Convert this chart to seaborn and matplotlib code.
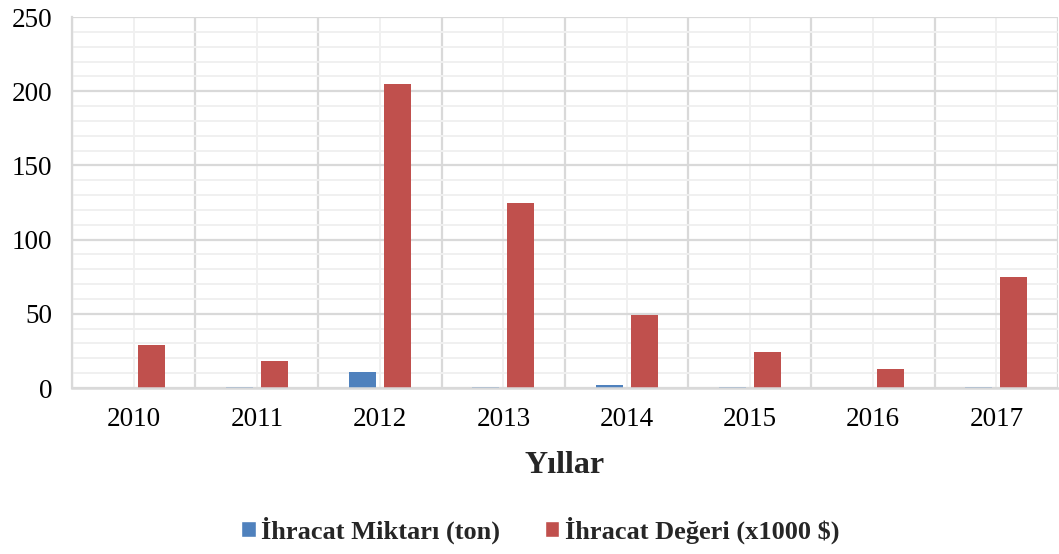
import matplotlib
matplotlib.use("Agg")
import matplotlib.pyplot as plt
from matplotlib.ticker import MultipleLocator, FixedLocator
import seaborn as sns
import pandas as pd

years = ["2010", "2011", "2012", "2013", "2014", "2015", "2016", "2017"]
miktar = [0, 1, 11, 1, 2, 1, 0, 1]
deger = [29, 18, 205, 125, 49, 24, 13, 75]
series_names = ["İhracat Miktarı (ton)", "İhracat Değeri (x1000 $)"]
colors = ["#4F81BD", "#C0504D"]

df = pd.DataFrame({
    "Yıl": years * 2,
    "Değer": miktar + deger,
    "Seri": [series_names[0]] * len(years) + [series_names[1]] * len(years),
})

sns.set_style("white")
plt.rcParams["font.family"] = ["Liberation Serif", "DejaVu Serif"]

fig = plt.figure(figsize=(10.59, 5.54), dpi=100)
ax = fig.add_axes([0.068, 0.2996, 0.931, 0.6697])

sns.barplot(data=df, x="Yıl", y="Değer", hue="Seri", palette=colors,
            width=0.567, ax=ax, legend=True, saturation=1)

# narrow bars around their centers
for p in ax.patches:
    w = p.get_width()
    if w > 0:
        c = p.get_x() + w / 2
        p.set_width(0.22)
        p.set_x(c - 0.11)
        p.set_edgecolor("none")

ax.set_xlim(-0.5, len(years) - 0.5)
ax.set_ylim(0, 250)
ax.yaxis.set_major_locator(MultipleLocator(50))
ax.yaxis.set_minor_locator(MultipleLocator(10))
ax.xaxis.set_minor_locator(FixedLocator([i - 0.5 for i in range(len(years) + 1)]))

ax.set_axisbelow(True)
ax.grid(which="major", axis="y", color="#D9D9D9", linewidth=1.6)
ax.grid(which="minor", axis="y", color="#F0F0F0", linewidth=1.4)
ax.grid(which="major", axis="x", color="#F0F0F0", linewidth=1.4)
ax.grid(which="minor", axis="x", color="#D9D9D9", linewidth=1.6)

for s in ["top", "right"]:
    ax.spines[s].set_visible(False)
ax.spines["left"].set_color("#D9D9D9")
ax.spines["left"].set_linewidth(1.6)
ax.spines["bottom"].set_color("#D9D9D9")
ax.spines["bottom"].set_linewidth(1.8)

ax.tick_params(axis="both", which="both", length=0, labelsize=19.5, colors="black")
ax.tick_params(axis="y", pad=14)
ax.tick_params(axis="x", pad=14)

ax.set_ylabel("")
ax.set_xlabel("Yıllar", fontsize=23, fontweight="bold", labelpad=13)

handles, labels = ax.get_legend_handles_labels()
ax.legend_.remove()
fig.legend(handles, labels, loc="center", bbox_to_anchor=(0.51, 0.043), ncol=2,
           frameon=False, prop={"weight": "bold", "size": 19},
           handlelength=0.55, handleheight=0.55, handletextpad=0.2,
           columnspacing=1.7)

fig.savefig("out.png", dpi=100)
